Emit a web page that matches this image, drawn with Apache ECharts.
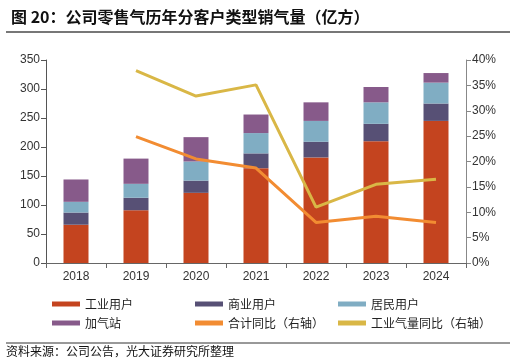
<!DOCTYPE html>
<html><head><meta charset="utf-8">
<script src="https://cdn.jsdelivr.net/npm/echarts@6/dist/echarts.min.js"></script>
<style>html,body{margin:0;padding:0;background:#fff}#c{width:516px;height:364px}</style>
</head><body><div id="c"></div>
<script>
const categories = ['2018','2019','2020','2021','2022','2023','2024'];
const industrial = [66, 91, 121, 163.5, 182, 210, 245];
const commercial = [21, 21.5, 21, 25.5, 27, 30, 30];
const residential = [18.5, 24, 33, 35, 36, 37, 36];
const gasStation = [38.5, 43.5, 42, 32, 32, 26.5, 16.5];
const totalYoY = [null, 24.9, 20.5, 18.7, 8.0, 9.2, 8.0];
const industrialYoY = [null, 37.9, 32.9, 35.1, 11.0, 15.5, 16.5];
const leftTicks = [0, 350, 50];
const rightTicks = [0, 40, 5];

const cnFont = '"Noto Sans CJK SC", sans-serif';
const numFont = '"Liberation Sans", Arial, sans-serif';
const colors = {ind:'#C4441F', com:'#575075', res:'#80ADC3', gas:'#875A8A', tot:'#F28C32', iy:'#D9B746'};

const chart = echarts.init(document.getElementById('c'));
const barSeries = (name, data, color) => ({
  name, type:'bar', stack:'s', data, barWidth:25,
  itemStyle:{color}, yAxisIndex:0
});
const lineSeries = (name, data, color) => ({
  name, type:'line', data, yAxisIndex:1, symbol:'none',
  lineStyle:{color, width:3}, itemStyle:{color}
});
const legendBase = {orient:'vertical', top:293, itemWidth:28, itemHeight:5, itemGap:7,
  textStyle:{fontFamily:cnFont, fontSize:12, color:'#222'}};
chart.setOption({
  animation:false,
  title:{text:'图 20：公司零售气历年分客户类型销气量（亿方）', left:6, top:4,
    textStyle:{fontFamily:cnFont, fontSize:16, fontWeight:'bold', color:'#111'}},
  graphic:[
    {type:'line', shape:{x1:6, y1:32, x2:510, y2:32}, style:{stroke:'#777', lineWidth:2}},
    {type:'line', shape:{x1:6, y1:343, x2:510, y2:343}, style:{stroke:'#333', lineWidth:1}},
    {type:'text', left:6, top:345, style:{text:'资料来源：公司公告，光大证券研究所整理', font:'12px "Noto Sans CJK SC"', fill:'#111'}}
  ],
  grid:{left:46, right:50, top:60, bottom:101},
  legend:[
    Object.assign({}, legendBase, {left:47, data:[{name:'工业用户', icon:'rect'},{name:'加气站', icon:'rect'}]}),
    Object.assign({}, legendBase, {left:190, data:[{name:'商业用户', icon:'rect'},{name:'合计同比（右轴）', icon:'rect'}]}),
    Object.assign({}, legendBase, {left:333, data:[{name:'居民用户', icon:'rect'},{name:'工业气量同比（右轴）', icon:'rect'}]})
  ],
  xAxis:{type:'category', data:categories,
    axisLine:{lineStyle:{color:'#666'}}, axisTick:{show:true, lineStyle:{color:'#666'}},
    axisLabel:{fontFamily:numFont, fontSize:12, color:'#333', margin:8}},
  yAxis:[
    {type:'value', min:leftTicks[0], max:leftTicks[1], interval:leftTicks[2],
      axisLine:{show:true, lineStyle:{color:'#555'}}, axisTick:{show:true, lineStyle:{color:'#555'}},
      splitLine:{show:false}, axisLabel:{fontFamily:numFont, fontSize:12, color:'#333', margin:6}},
    {type:'value', min:rightTicks[0], max:rightTicks[1], interval:rightTicks[2], position:'right',
      axisLine:{show:true, lineStyle:{color:'#888'}}, axisTick:{show:true, lineStyle:{color:'#888'}},
      splitLine:{show:false}, axisLabel:{fontFamily:numFont, fontSize:12, color:'#333', margin:6, formatter:'{value}%'}}
  ],
  series:[
    barSeries('工业用户', industrial, colors.ind),
    barSeries('商业用户', commercial, colors.com),
    barSeries('居民用户', residential, colors.res),
    barSeries('加气站', gasStation, colors.gas),
    lineSeries('合计同比（右轴）', totalYoY, colors.tot),
    lineSeries('工业气量同比（右轴）', industrialYoY, colors.iy)
  ]
});
</script></body></html>
